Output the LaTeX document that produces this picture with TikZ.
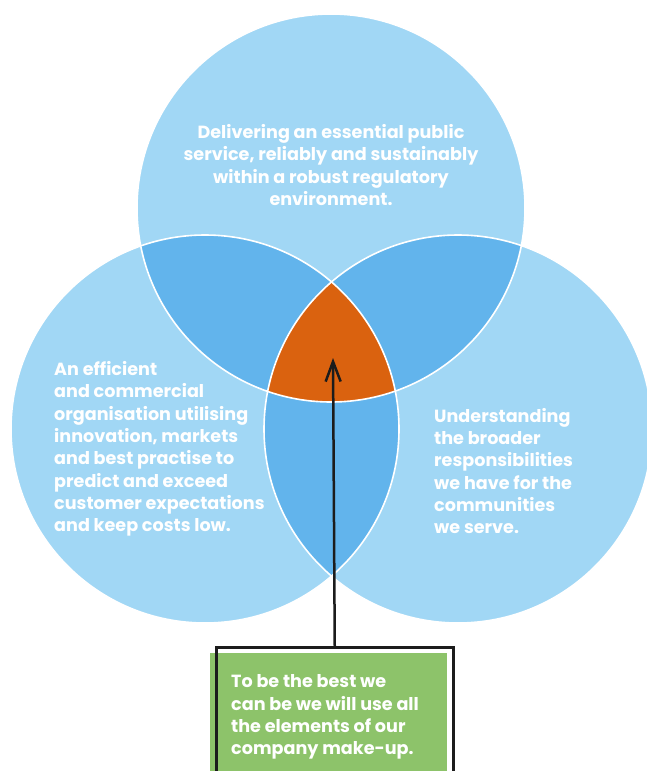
\documentclass[tikz,border=0pt]{standalone}
\usepackage{fontspec}
\setmainfont{Poppins}
\usetikzlibrary{arrows.meta}

\definecolor{cielo}{HTML}{A1D7F5}
\definecolor{azul}{HTML}{62B4EC}
\definecolor{naranja}{HTML}{DA620F}
\definecolor{verde}{HTML}{8DC36A}
\definecolor{negro}{HTML}{1C1C1C}

\tikzset{
  circulo/.style={circle, fill=cielo, minimum size=388pt, inner sep=0pt},
  borde/.style={draw=white, line width=1.6pt},
  texto/.style={text=white, inner sep=0pt, align=left,
    font=\bfseries\fontsize{17.6}{22.3}\selectfont},
  flecha/.style={-{Straight Barb[length=20pt,width=15pt]}, draw=negro, line width=2.5pt},
}

\begin{document}
\begin{tikzpicture}[x=1pt,y=-1pt]
    \useasboundingbox (0,0) rectangle (647,771);
    \clip (0,0) rectangle (647,771);

    % Los tres circulos
    \node[circulo] (arriba) at (331,208) {};
    \node[circulo] (izquierda) at (205,429) {};
    \node[circulo] (derecha) at (458,429) {};

    % Intersecciones de dos circulos
    \begin{scope}
        \clip (arriba.center) circle[radius=194pt];
        \fill[azul] (izquierda.center) circle[radius=194pt];
        \fill[azul] (derecha.center) circle[radius=194pt];
    \end{scope}
    \begin{scope}
        \clip (izquierda.center) circle[radius=194pt];
        \fill[azul] (derecha.center) circle[radius=194pt];
    \end{scope}

    % Interseccion de los tres
    \begin{scope}
        \clip (arriba.center) circle[radius=194pt];
        \clip (izquierda.center) circle[radius=194pt];
        \fill[naranja] (derecha.center) circle[radius=194pt];
    \end{scope}

    % Bordes blancos
    \foreach \c in {arriba,izquierda,derecha}
        \draw[borde] (\c.center) circle[radius=194pt];

    % Textos de los circulos
    \node[texto, align=center] (tarriba) at (331,165) {Delivering an essential public\\service, reliably and sustainably\\within a robust regulatory\\environment.};
    \node[texto, anchor=west] (tizquierda) at (54,449) {An efficient\\and commercial\\organisation utilising\\innovation, markets\\and best practise to\\predict and exceed\\customer expectations\\and keep costs low.};
    \node[texto, anchor=west] (tderecha) at (434,471) {Understanding\\the broader\\responsibilities\\we have for the\\communities\\we serve.};

    % Caja verde y su marco
    \node[fill=verde, minimum width=237pt, minimum height=140pt, anchor=north west, inner sep=0pt] (caja) at (210,653) {};
    \node[draw=negro, line width=2.5pt, minimum width=237pt, minimum height=140pt, anchor=north west, inner sep=0pt] (marco) at (215,646) {};
    \node[texto, anchor=west] (tcaja) at (231,717) {To be the best we\\can be we will use all\\the elements of our\\company make-up.};

    % Flecha hacia el centro
    \coordinate (punta) at (333,358);
    \draw[flecha] (marco.north) -- (punta);
\end{tikzpicture}
\end{document}
